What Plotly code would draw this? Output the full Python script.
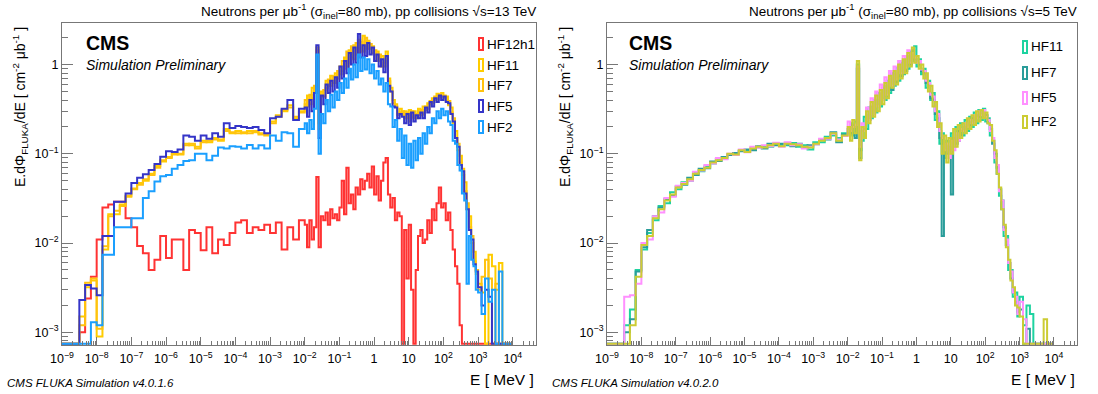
import numpy as np
import plotly.graph_objects as go

W, H = 1098, 394
FONT = "Liberation Sans, Arial, Helvetica, sans-serif"

# ---------------- binning (energy in MeV) ----------------
bin_edges_MeV = np.concatenate([
    10 ** (-9 + np.arange(42) / 6),     # low-energy groups
    10 ** (-2 + np.arange(75) / 15),    # 0.01 MeV .. 1 GeV
    10 ** (3 + np.arange(11) / 10),     # 1 GeV .. 10 GeV
])

# ---------------- 13 TeV (left panel) ----------------
hf12h1_13_low = [0, 0, 0, 0.0010, 0.0024, 0.0042, 0.011, 0.025, 0.027, 0.029, 0.029, 0.019, 0.015, 0.0093,
                 0.0077, 0.0050, 0.0065, 0.012, 0.0068, 0.011, 0.011, 0.0050, 0.014, 0.013, 0.0083, 0.015,
                 0.0077, 0.011, 0.0095, 0.013, 0.017, 0.018, 0.013, 0.015, 0.014, 0.016, 0.013, 0.017,
                 0.0085, 0.015, 0.011, 0.018]
hf12h1_13_mid = [0.016, 0.009, 0.018, 0.011, 0.015, 0.055, 0.009, 0.020, 0.018, 0.022,
                 0.016, 0.024, 0.019, 0.021, 0.018, 0.025, 0.050, 0.021, 0.070, 0.028,
                 0.035, 0.024, 0.042, 0.035, 0.052, 0.040, 0.050, 0.060, 0.042, 0.072,
                 0.035, 0.056, 0.030, 0.050, 0.080, 0.090, 0.035, 0.025, 0.032, 0.018,
                 0.022, 0.020, 0, 0.014, 0.004, 0.016, 0.003, 0, 0.005, 0.012,
                 0.014, 0.010, 0.011, 0.018, 0.013, 0.024, 0.018, 0.028, 0.042, 0.025,
                 0.028, 0.018, 0.022, 0.014, 0.0085, 0.0055, 0.0035, 0.0012, 0, 0,
                 0, 0, 0, 0, 0]
hf12h1_13_high = [0, 0, 0, 0, 0, 0, 0, 0, 0, 0]

hf11_13_low = [0, 0, 0, 0.0015, 0.0032, 0.0038, 0.0009, 0.0085, 0.021, 0.021, 0.027, 0.033, 0.040, 0.047,
               0.050, 0.060, 0.073, 0.082, 0.092, 0.100, 0.098, 0.130, 0.125, 0.120, 0.140, 0.135, 0.150,
               0.140, 0.190, 0.170, 0.180, 0.170, 0.180, 0.175, 0.170, 0.160, 0.230, 0.270, 0.300, 0.350,
               0.250, 0.300]
hf11_13_mid = [0.36, 0.45, 0.36, 0.55, 0.50, 1.55, 0.22, 0.50, 0.44, 0.66,
               0.58, 0.75, 0.62, 0.80, 0.70, 0.95, 0.85, 1.20, 0.95, 1.45,
               1.20, 1.65, 1.30, 1.90, 1.40, 2.10, 1.50, 1.85, 1.50, 1.60,
               1.30, 1.40, 1.10, 1.25, 0.95, 1.40, 0.70, 0.55, 0.40, 0.36,
               0.28, 0.32, 0.27, 0.30, 0.25, 0.31, 0.26, 0.30, 0.25, 0.32,
               0.27, 0.34, 0.31, 0.37, 0.36, 0.42, 0.40, 0.47, 0.43, 0.48,
               0.42, 0.44, 0.35, 0.33, 0.22, 0.18, 0.11, 0.095, 0.058, 0.048,
               0.024, 0.020, 0.010, 0.0080, 0.0045]
hf11_13_high = [0.0035, 0.0028, 0, 0.0074, 0.0055, 0.0030, 0.0060, 0, 0, 0]

hf7_13_low = [0, 0, 0, 0.0012, 0.0036, 0.0040, 0.0011, 0.0092, 0.020, 0.023, 0.026, 0.034, 0.041, 0.045,
              0.052, 0.058, 0.070, 0.085, 0.090, 0.098, 0.100, 0.125, 0.130, 0.115, 0.135, 0.140, 0.145,
              0.145, 0.180, 0.175, 0.170, 0.175, 0.170, 0.180, 0.165, 0.165, 0.220, 0.260, 0.310, 0.330,
              0.260, 0.290]
hf7_13_mid = [0.40, 0.34, 0.46, 0.42, 0.58, 1.45, 0.19, 0.44, 0.52, 0.55,
              0.68, 0.58, 0.74, 0.62, 0.85, 0.78, 1.10, 0.90, 1.40, 1.05,
              1.60, 1.15, 1.75, 1.35, 1.80, 1.40, 2.00, 1.50, 1.70, 1.35,
              1.45, 1.10, 1.30, 0.95, 1.05, 1.20, 0.65, 0.50, 0.37, 0.34,
              0.27, 0.29, 0.30, 0.25, 0.29, 0.23, 0.30, 0.25, 0.28, 0.27,
              0.31, 0.28, 0.34, 0.32, 0.39, 0.37, 0.44, 0.41, 0.46, 0.44,
              0.45, 0.39, 0.39, 0.29, 0.25, 0.15, 0.13, 0.080, 0.068, 0.038,
              0.028, 0.015, 0.012, 0.0062, 0.0050]
hf7_13_high = [0.0030, 0.0042, 0.0065, 0.0040, 0, 0.0035, 0, 0, 0, 0]

hf5_13_low = [0, 0, 0, 0.0023, 0.0034, 0.0031, 0.0026, 0.012, 0.012, 0.029, 0.029, 0.036, 0.047, 0.054,
              0.059, 0.066, 0.077, 0.093, 0.107, 0.105, 0.112, 0.160, 0.155, 0.140, 0.160, 0.148, 0.170,
              0.155, 0.220, 0.195, 0.205, 0.200, 0.195, 0.200, 0.185, 0.170, 0.250, 0.260, 0.320, 0.400,
              0.240, 0.320]
hf5_13_mid = [0.33, 0.26, 0.40, 0.30, 0.48, 1.65, 0.15, 0.45, 0.36, 0.60,
              0.48, 0.66, 0.50, 0.72, 0.55, 0.95, 0.70, 1.10, 0.80, 1.35,
              1.00, 1.55, 1.05, 2.20, 1.20, 1.65, 1.25, 1.75, 1.30, 1.55,
              1.10, 1.30, 0.95, 1.15, 0.82, 1.25, 0.58, 0.50, 0.34, 0.33,
              0.25, 0.28, 0.26, 0.22, 0.28, 0.21, 0.29, 0.23, 0.27, 0.25,
              0.29, 0.25, 0.33, 0.29, 0.38, 0.34, 0.42, 0.38, 0.45, 0.40,
              0.44, 0.38, 0.37, 0.28, 0.23, 0.15, 0.12, 0.075, 0.064, 0.036,
              0.024, 0.014, 0.011, 0.0058, 0.0048]
hf5_13_high = [0.0032, 0.0020, 0.0030, 0.0025, 0, 0, 0, 0, 0, 0]

hf2_13_low = [0, 0, 0, 0, 0, 0.0013, 0.0012, 0.0074, 0.0074, 0.015, 0.015, 0.015, 0.019, 0.019, 0.032,
              0.038, 0.049, 0.056, 0.058, 0.068, 0.075, 0.083, 0.085, 0.100, 0.100, 0.085, 0.095, 0.118,
              0.115, 0.122, 0.120, 0.115, 0.126, 0.115, 0.125, 0.115, 0.160, 0.140, 0.175, 0.170, 0.120,
              0.190]
hf2_13_mid = [0.22, 0.17, 0.24, 0.19, 0.32, 1.30, 0.10, 0.28, 0.22, 0.40,
              0.30, 0.46, 0.33, 0.50, 0.40, 0.62, 0.48, 0.70, 0.55, 0.90,
              0.68, 1.00, 0.72, 1.30, 0.85, 1.20, 0.88, 1.15, 0.80, 1.00,
              0.70, 0.85, 0.60, 0.70, 0.50, 0.62, 0.36, 0.34, 0.20, 0.24,
              0.14, 0.19, 0.09, 0.16, 0.075, 0.13, 0.07, 0.14, 0.085, 0.15,
              0.10, 0.17, 0.13, 0.20, 0.17, 0.25, 0.22, 0.30, 0.25, 0.32,
              0.27, 0.30, 0.23, 0.21, 0.14, 0.13, 0.075, 0.065, 0.036, 0.030,
              0.0035, 0.012, 0.0065, 0.0055, 0.0030]
hf2_13_high = [0.0028, 0.0016, 0.0040, 0.0022, 0.0030, 0, 0.0048, 0, 0, 0]

# ---------------- 5 TeV (right panel) ----------------
hf11_5_low = [0, 0, 0, 0.0012, 0.0018, 0.0050, 0.0085, 0.013, 0.018, 0.026, 0.028, 0.037, 0.040, 0.048,
              0.050, 0.062, 0.064, 0.072, 0.078, 0.088, 0.088, 0.098, 0.100, 0.108, 0.110, 0.112, 0.118,
              0.122, 0.120, 0.128, 0.126, 0.125, 0.132, 0.120, 0.125, 0.112, 0.135, 0.135, 0.155, 0.160,
              0.150, 0.170]
hf11_5_mid = [0.17, 0.22, 0.16, 0.23, 1.00, 0.11, 0.14, 0.26, 0.19, 0.33,
              0.25, 0.40, 0.29, 0.48, 0.34, 0.55, 0.40, 0.66, 0.48, 0.80,
              0.58, 0.92, 0.66, 1.05, 0.78, 1.20, 0.90, 1.40, 1.10, 1.60,
              0.95, 1.15, 0.78, 0.90, 0.55, 0.66, 0.40, 0.48, 0.24, 0.30,
              0.13, 0.17, 0.09, 0.14, 0.11, 0.17, 0.12, 0.20, 0.14, 0.22,
              0.16, 0.24, 0.18, 0.26, 0.20, 0.29, 0.22, 0.31, 0.24, 0.32,
              0.23, 0.25, 0.16, 0.14, 0.080, 0.070, 0.034, 0.030, 0.012, 0.012,
              0.0050, 0.0050, 0.0025, 0.0028, 0.0015]
hf11_5_high = [0.0025, 0.0012, 0.0020, 0.0016, 0, 0, 0, 0, 0, 0]

hf7_5_low = [0, 0, 0, 0.0010, 0.0014, 0.0048, 0.0090, 0.014, 0.020, 0.025, 0.031, 0.034, 0.043, 0.045,
             0.054, 0.058, 0.068, 0.069, 0.082, 0.083, 0.092, 0.097, 0.102, 0.107, 0.112, 0.110, 0.122,
             0.115, 0.130, 0.125, 0.130, 0.128, 0.122, 0.130, 0.118, 0.125, 0.128, 0.145, 0.145, 0.175,
             0.135, 0.165]
hf7_5_mid = [0.19, 0.17, 0.21, 0.15, 0.90, 0.09, 0.18, 0.19, 0.27, 0.24,
             0.34, 0.30, 0.40, 0.36, 0.47, 0.42, 0.58, 0.45, 0.70, 0.52,
             0.80, 0.64, 0.95, 0.74, 1.10, 0.85, 1.25, 1.00, 1.45, 1.15,
             1.10, 1.00, 0.85, 0.80, 0.62, 0.58, 0.42, 0.40, 0.28, 0.25,
             0.15, 0.012, 0.13, 0.10, 0.12, 0.035, 0.15, 0.13, 0.18, 0.16,
             0.19, 0.20, 0.22, 0.21, 0.25, 0.24, 0.27, 0.26, 0.30, 0.28,
             0.27, 0.22, 0.19, 0.13, 0.10, 0.060, 0.040, 0.024, 0.015, 0.0095,
             0.0060, 0.0040, 0.0028, 0.0022, 0.0017]
hf7_5_high = [0.0018, 0, 0.0011, 0, 0, 0, 0, 0, 0, 0]

hf5_5_low = [0, 0, 0, 0.0025, 0.0026, 0.0035, 0.010, 0.011, 0.020, 0.022, 0.032, 0.033, 0.044, 0.047,
             0.050, 0.063, 0.065, 0.075, 0.078, 0.090, 0.087, 0.100, 0.097, 0.112, 0.104, 0.120, 0.117,
             0.125, 0.122, 0.133, 0.120, 0.135, 0.125, 0.128, 0.115, 0.120, 0.128, 0.148, 0.148, 0.168,
             0.145, 0.158]
hf5_5_mid = [0.23, 0.18, 0.20, 0.21, 0.95, 0.12, 0.22, 0.18, 0.33, 0.24,
             0.42, 0.28, 0.50, 0.34, 0.60, 0.40, 0.72, 0.46, 0.85, 0.58,
             0.95, 0.68, 1.10, 0.80, 1.25, 0.92, 1.45, 1.05, 1.35, 1.20,
             1.05, 1.10, 0.88, 0.85, 0.66, 0.62, 0.46, 0.44, 0.30, 0.28,
             0.18, 0.15, 0.11, 0.13, 0.09, 0.14, 0.11, 0.17, 0.14, 0.19,
             0.18, 0.22, 0.20, 0.24, 0.22, 0.27, 0.25, 0.30, 0.27, 0.31,
             0.26, 0.24, 0.18, 0.15, 0.090, 0.075, 0.038, 0.030, 0.014, 0.011,
             0.0060, 0.0048, 0.0028, 0.0025, 0.0016]
hf5_5_high = [0.0022, 0.0014, 0, 0, 0, 0, 0, 0, 0, 0]

hf2_5_low = [0, 0, 0, 0, 0.0012, 0.0042, 0.0095, 0.012, 0.019, 0.024, 0.030, 0.035, 0.042, 0.046,
             0.052, 0.060, 0.066, 0.070, 0.080, 0.085, 0.090, 0.100, 0.098, 0.110, 0.105, 0.115, 0.120,
             0.118, 0.125, 0.130, 0.122, 0.130, 0.128, 0.125, 0.120, 0.118, 0.130, 0.140, 0.150, 0.170,
             0.140, 0.160]
hf2_5_mid = [0.20, 0.14, 0.24, 0.17, 1.10, 0.085, 0.20, 0.15, 0.30, 0.22,
             0.38, 0.26, 0.45, 0.30, 0.52, 0.36, 0.62, 0.42, 0.75, 0.55,
             0.85, 0.60, 1.00, 0.70, 1.15, 0.80, 1.35, 0.95, 1.55, 1.05,
             1.25, 0.90, 1.00, 0.70, 0.80, 0.50, 0.58, 0.34, 0.38, 0.20,
             0.22, 0.10, 0.16, 0.08, 0.15, 0.10, 0.19, 0.12, 0.21, 0.15,
             0.22, 0.17, 0.25, 0.19, 0.27, 0.21, 0.30, 0.23, 0.31, 0.25,
             0.29, 0.22, 0.21, 0.14, 0.11, 0.060, 0.042, 0.024, 0.016, 0.0090,
             0.0065, 0.0038, 0.0032, 0.0020, 0.0019]
hf2_5_high = [0.0015, 0, 0, 0, 0, 0, 0, 0.0014, 0, 0]

left_series = [
    ("HF12h1", hf12h1_13_low + hf12h1_13_mid + hf12h1_13_high, "#ff3333"),
    ("HF11", hf11_13_low + hf11_13_mid + hf11_13_high, "#ffcc00"),
    ("HF7", hf7_13_low + hf7_13_mid + hf7_13_high, "#ffc20e"),
    ("HF5", hf5_13_low + hf5_13_mid + hf5_13_high, "#3535c8"),
    ("HF2", hf2_13_low + hf2_13_mid + hf2_13_high, "#1a9fff"),
]
right_series = [
    ("HF11", hf11_5_low + hf11_5_mid + hf11_5_high, "#1dd3a0"),
    ("HF7", hf7_5_low + hf7_5_mid + hf7_5_high, "#2a9d9a"),
    ("HF5", hf5_5_low + hf5_5_mid + hf5_5_high, "#ff90ff"),
    ("HF2", hf2_5_low + hf2_5_mid + hf2_5_high, "#cccc33"),
]

x_tick_vals = [10.0 ** n for n in range(-9, 5)]
x_tick_text = ["10<sup>\u22129</sup>", "10<sup>\u22128</sup>", "10<sup>\u22127</sup>", "10<sup>\u22126</sup>",
               "10<sup>\u22125</sup>", "10<sup>\u22124</sup>", "10<sup>\u22123</sup>", "10<sup>\u22122</sup>",
               "10<sup>\u22121</sup>", "1", "10", "10<sup>2</sup>", "10<sup>3</sup>", "10<sup>4</sup>"]
y_tick_vals = [1e-3, 1e-2, 1e-1, 1.0]
y_tick_text = ["10<sup>\u22123</sup>", "10<sup>\u22122</sup>", "10<sup>\u22121</sup>", "1"]

X_LOG_RANGE = [-9.0, 4.67]
Y_LOG_RANGE = [-3.142, 0.466]
FLOOR = 10 ** (Y_LOG_RANGE[0] + 0.014)   # empty bins drawn on the frame bottom

def px(x):
    return x / W

def py(y):
    return 1 - y / H

fig = go.Figure()

def add_hist(name, vals, color, xa, ya):
    y = [v if v > 0 else FLOOR for v in vals]
    y = y + [y[-1]]
    fig.add_trace(go.Scatter(x=bin_edges_MeV, y=y, mode="lines", line=dict(color=color, width=2, shape="hv"),
                             name=name, xaxis=xa, yaxis=ya, showlegend=False, hoverinfo="skip"))

for n, v, c in left_series:
    add_hist(n, v, c, "x", "y")
for n, v, c in right_series:
    add_hist(n, v, c, "x2", "y2")

minor_x = [m * 10.0 ** n for n in range(-9, 5) for m in range(2, 10) if m * 10.0 ** n < 10 ** X_LOG_RANGE[1]]
minor_y = [m * 10.0 ** n for n in range(-4, 1) for m in range(2, 10)
           if 10 ** Y_LOG_RANGE[0] < m * 10.0 ** n < 10 ** Y_LOG_RANGE[1]]

AX_COL = "#777777"
def xaxis(dom, anchor):
    return dict(type="log", range=X_LOG_RANGE, domain=dom, anchor=anchor, showgrid=False, zeroline=False,
                showline=True, linecolor=AX_COL, linewidth=1, mirror=True,
                tickmode="array", tickvals=x_tick_vals, ticktext=x_tick_text,
                ticks="inside", ticklen=8, tickwidth=1, tickcolor=AX_COL, ticklabelstandoff=2,
                tickfont=dict(family=FONT, size=12.5, color="#000"),
                minor=dict(tickmode="array", tickvals=minor_x, ticks="inside", ticklen=4,
                           tickwidth=1, tickcolor=AX_COL, showgrid=False),
                automargin=False)

def yaxis(anchor):
    return dict(type="log", range=Y_LOG_RANGE, domain=[py(345), py(23)], anchor=anchor, showgrid=False,
                zeroline=False, showline=True, linecolor=AX_COL, linewidth=1, mirror=True,
                tickmode="array", tickvals=y_tick_vals, ticktext=y_tick_text,
                ticks="inside", ticklen=11, tickwidth=1, tickcolor=AX_COL,
                tickfont=dict(family=FONT, size=12.5, color="#000"),
                minor=dict(tickmode="array", tickvals=minor_y, ticks="inside", ticklen=6,
                           tickwidth=1, tickcolor=AX_COL, showgrid=False),
                automargin=False)

annotations = []
shapes = []

def text(x, y, s, size, xanchor="left", yanchor="middle", angle=0):
    annotations.append(dict(xref="paper", yref="paper", x=px(x), y=py(y), text=s, showarrow=False,
                            xanchor=xanchor, yanchor=yanchor, textangle=angle,
                            font=dict(family=FONT, size=size, color="#000")))

panels = [
    dict(x0=62, x1=536, cms_x=84,
         title="Neutrons per \u03bcb<sup>-1</sup> (\u03c3<sub>inel</sub>=80 mb), pp collisions \u221as=13 TeV",
         footer="<i>CMS FLUKA Simulation v4.0.1.6</i>", foot_x=5, ytitle_x=20,
         leg_x=479, leg_y=[44, 65, 85, 106, 127], series=left_series),
    dict(x0=607, x1=1077, cms_x=627,
         title="Neutrons per \u03bcb<sup>-1</sup> (\u03c3<sub>inel</sub>=80 mb), pp collisions \u221as=5 TeV",
         footer="<i>CMS FLUKA Simulation v4.0.2.0</i>", foot_x=550, ytitle_x=565,
         leg_x=1023, leg_y=[47, 73, 98, 122], series=right_series),
]

for p in panels:
    text(p["x1"] + 2, 11, p["title"], 13.5, xanchor="right")
    text(p["cms_x"], 43, "<b>CMS</b>", 19.5)
    text(p["cms_x"], 65, "<i>Simulation Preliminary</i>", 14)
    text(p["foot_x"], 383, p["footer"], 11.5)
    text(p["x1"], 379, "E [ MeV ]", 15.5, xanchor="right")
    text(p["ytitle_x"], 25, "E.d\u03a6<sub>FLUKA</sub>/dE [ cm<sup>-2</sup> \u03bcb<sup>-1</sup> ]", 14,
         xanchor="center", yanchor="top", angle=-90)
    for (name, _, color), yc in zip(p["series"], p["leg_y"]):
        shapes.append(dict(type="rect", xref="paper", yref="paper",
                           x0=px(p["leg_x"]), x1=px(p["leg_x"] + 4), y0=py(yc + 6), y1=py(yc - 6),
                           line=dict(color=color, width=2), fillcolor="rgba(0,0,0,0)"))
        text(p["leg_x"] + 6, yc, name, 13.5)

fig.update_layout(
    width=W, height=H, margin=dict(l=0, r=0, t=0, b=0),
    paper_bgcolor="white", plot_bgcolor="white", showlegend=False,
    xaxis=xaxis([px(62), px(536)], "y"),
    yaxis=yaxis("x"),
    xaxis2=xaxis([px(607), px(1077)], "y2"),
    yaxis2=yaxis("x2"),
    annotations=annotations, shapes=shapes,
)

fig.write_html("out.html")
